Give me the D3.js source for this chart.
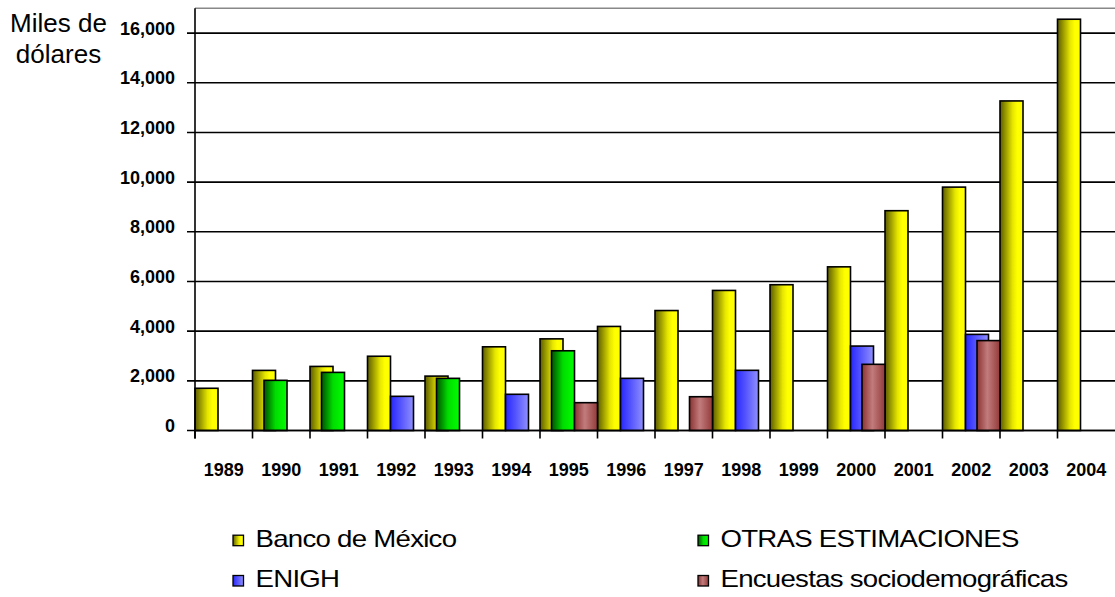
<!DOCTYPE html>
<html>
<head>
<meta charset="utf-8">
<script src="https://cdn.jsdelivr.net/npm/d3@7"></script>
<style>
  html, body { margin: 0; padding: 0; background: #fff; }
  svg { display: block; font-family: "Liberation Sans", Arial, sans-serif; }
</style>
</head>
<body>
<svg id="chart" width="1115" height="597"></svg>
<script>
// ---- data ----
const years = ["1989","1990","1991","1992","1993","1994","1995","1996","1997","1998","1999","2000","2001","2002","2003","2004"];
const banxico   = [1700, 2420, 2580, 2990, 2190, 3370, 3690, 4190, 4830, 5640, 5870, 6590, 8850, 9800, 13270, 16560];
const otras     = [null, 2020, 2340, null, 2100, null, 3210, null, null, null, null, null, null, null, null, null];
const enigh     = [null, null, null, 1376, null, 1458, null, 2100, null, 2423, null, 3400, null, 3870, null, null];
const encuestas = [null, null, null, null, null, null, 1120, null, 1360, null, null, 2665, null, 3620, null, null];
const seriesNames = ["Banco de México", "OTRAS ESTIMACIONES", "ENIGH", "Encuestas sociodemográficas"];
const yTicks = [0, 2000, 4000, 6000, 8000, 10000, 12000, 14000, 16000];
const yMax = 17000;

(function () {
const seriesData = [banxico, otras, enigh, encuestas];
const gradStops = [
  [["0%", "#5c5c00"], ["55%", "#e6e600"], ["75%", "#ffff00"], ["100%", "#ffff00"]],
  [["0%", "#005000"], ["50%", "#00dd00"], ["100%", "#00ff00"]],
  [["0%", "#2626ff"], ["100%", "#9090ff"]],
  [["0%", "#8a3232"], ["45%", "#c27c7c"], ["100%", "#933a3a"]]
];

const svg = d3.select("#chart");
const defs = svg.append("defs");
gradStops.forEach((stops, i) => {
  const g = defs.append("linearGradient").attr("id", "grad" + i)
    .attr("x1", "0").attr("x2", "1").attr("y1", "0").attr("y2", "0");
  stops.forEach(s => g.append("stop").attr("offset", s[0]).attr("stop-color", s[1]));
});

const pL = 195, pR = 1115, pT = 8.3, pB = 430.5;
const x = d3.scaleBand().domain(years).range([pL, pR]).padding(0);
const y = d3.scaleLinear().domain([0, yMax]).range([pB, pT]);
const bw = x.bandwidth();
const barW = bw * 0.4, step = bw * 0.2;

// top border
svg.append("line").attr("x1", pL).attr("x2", pR).attr("y1", pT).attr("y2", pT)
  .attr("stroke", "#888").attr("stroke-width", 1.5);

// gridlines (extend left as tick marks)
svg.append("g").selectAll("line").data(yTicks).join("line")
  .attr("x1", pL - 8).attr("x2", pR)
  .attr("y1", d => y(d)).attr("y2", d => y(d))
  .attr("stroke", "#000").attr("stroke-width", 1.6);

// y axis labels
const yAxis = d3.axisLeft(y).tickValues(yTicks).tickFormat(d3.format(",")).tickSize(0).tickPadding(20);
const yg = svg.append("g").attr("transform", `translate(${pL},0)`).call(yAxis);
yg.select(".domain").remove();
yg.selectAll("text").attr("font-size", 18).attr("font-weight", "bold")
  .attr("font-family", "'Liberation Sans', Arial, sans-serif").attr("fill", "#000")
  .attr("dy", "0.05em");

// bars
seriesData.forEach((vals, si) => {
  svg.append("g").selectAll("rect")
    .data(years.map((yr, i) => ({yr, v: vals[i]})).filter(d => d.v != null))
    .join("rect")
    .attr("x", d => x(d.yr) + si * step)
    .attr("y", d => y(d.v))
    .attr("width", barW)
    .attr("height", d => pB - y(d.v))
    .attr("fill", `url(#grad${si})`)
    .attr("stroke", "#000").attr("stroke-width", 1.6);
});

// axes lines
svg.append("line").attr("x1", pL).attr("x2", pR).attr("y1", pB).attr("y2", pB)
  .attr("stroke", "#000").attr("stroke-width", 1.6);
svg.append("line").attr("x1", pL).attr("x2", pL).attr("y1", pT).attr("y2", pB + 8)
  .attr("stroke", "#000").attr("stroke-width", 1.6);

// x ticks at category boundaries
svg.append("g").selectAll("line").data(years).join("line")
  .attr("x1", d => x(d)).attr("x2", d => x(d))
  .attr("y1", pB).attr("y2", pB + 8)
  .attr("stroke", "#000").attr("stroke-width", 1.6);

// x labels
const xAxis = d3.axisBottom(x).tickSize(0).tickPadding(0);
const xg = svg.append("g").attr("transform", `translate(0,${pB})`).call(xAxis);
xg.select(".domain").remove();
xg.selectAll("text").attr("font-size", 18).attr("font-weight", "bold")
  .attr("font-family", "'Liberation Sans', Arial, sans-serif").attr("fill", "#000")
  .attr("dy", null).attr("y", 45);

// y title
const title = svg.append("text").attr("text-anchor", "middle").attr("font-size", 26).attr("fill", "#000");
title.append("tspan").attr("x", 58.5).attr("y", 32).text("Miles de");
title.append("tspan").attr("x", 58.5).attr("y", 63).text("dólares");

// legend
const legendPos = [
  {x: 233, y: 546.7}, {x: 698, y: 546.7},
  {x: 233, y: 587}, {x: 698, y: 587}
];
const lg = svg.append("g");
seriesNames.forEach((name, i) => {
  const p = legendPos[i];
  lg.append("rect").attr("x", p.x).attr("y", p.y - 11.5).attr("width", 10.5).attr("height", 10.5)
    .attr("fill", `url(#grad${i})`).attr("stroke", "#000").attr("stroke-width", 1.3);
  lg.append("text").attr("font-size", 23).attr("fill", "#000")
    .attr("transform", `translate(${p.x + 22.5},${p.y}) scale(1.2,1)`)
    .attr("letter-spacing", -0.6)
    .text(name);
});
})();
</script>
</body>
</html>
